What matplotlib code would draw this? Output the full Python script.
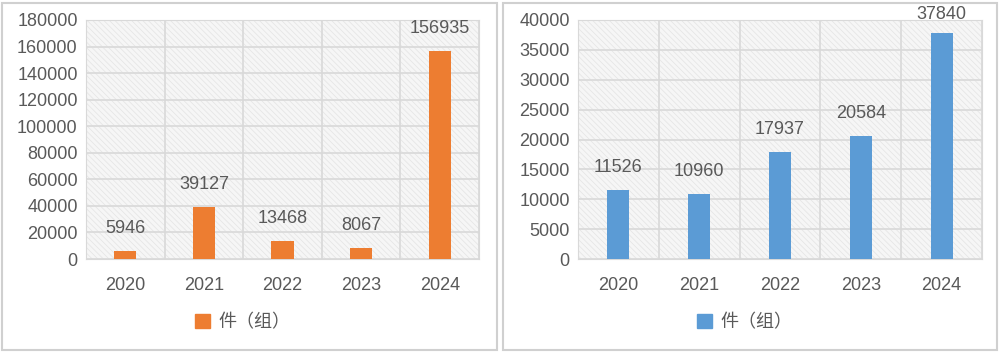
import numpy as np
import matplotlib.pyplot as plt
from matplotlib.patches import Rectangle, Patch

plt.rcParams['font.family'] = ['Liberation Sans', 'Noto Sans CJK SC', 'DejaVu Sans']
plt.rcParams['hatch.linewidth'] = 0.6

years = ['2020', '2021', '2022', '2023', '2024']
left_vals = [5946, 39127, 13468, 8067, 156935]
right_vals = [11526, 10960, 17937, 20584, 37840]
legend_label = '件（组）'

text_color = '#595959'
grid_color = '#d9d9d9'

fig = plt.figure(figsize=(10, 3.52), dpi=100)
W, H = 1000, 352

# outer panel frames
for x0, x1 in [(2, 497), (503, 997)]:
    fig.patches.append(Rectangle((x0 / W, 2 / H), (x1 - x0) / W, (H - 5) / H,
                                 transform=fig.transFigure, fill=False,
                                 edgecolor='#d0d0d0', linewidth=1.5))


def draw(rect, vals, color, ymax, ystep, width, leg_x):
    ax = fig.add_axes(rect)
    x = np.arange(len(years))
    ax.set_facecolor('white')
    ax.add_patch(Rectangle((0, 0), 1, 1, transform=ax.transAxes, facecolor='#f6f6f6',
                           edgecolor='#e6e6e6', hatch='\\\\\\\\\\\\', linewidth=0, zorder=0))
    ax.bar(x, vals, width=width, color=color, zorder=3)
    for xi, v in zip(x, vals):
        # labels near the top get pulled down a bit so they stay inside the panel
        off = 7 if v / ymax > 0.9 else 10
        ax.annotate(str(v), (xi, v), xytext=(0, off), textcoords='offset points',
                    ha='center', va='bottom', fontsize=13, color=text_color,
                    zorder=4, annotation_clip=False)
    ax.set_xlim(-0.5, len(years) - 0.5)
    ax.set_ylim(0, ymax)
    ax.set_yticks(np.arange(0, ymax + 1, ystep))
    ax.set_xticks(x)
    ax.set_xticklabels(years)
    ax.tick_params(length=0, labelsize=13, colors=text_color)
    ax.tick_params(axis='x', pad=13)
    ax.tick_params(axis='y', pad=6)
    for b in np.arange(-0.5, len(years), 1.0):
        ax.axvline(b, color=grid_color, linewidth=1.2, zorder=1)
    for yv in np.arange(0, ymax + 1, ystep):
        ax.axhline(yv, color=grid_color, linewidth=1.2, zorder=1)
    for s in ax.spines.values():
        s.set_color(grid_color)
    handle = Patch(facecolor=color, edgecolor=color)
    fig.legend([handle], [legend_label], loc='center', bbox_to_anchor=(leg_x, 1 - 323 / H),
               frameon=False, fontsize=13, labelcolor=text_color,
               handlelength=0.8, handleheight=0.8, handletextpad=0.5)
    return ax


draw([86 / W, 1 - 259 / H, (479 - 86) / W, (259 - 20) / H], left_vals, '#ED7D31',
     180000, 20000, 0.28, 243 / W)
draw([578 / W, 1 - 259 / H, (982 - 578) / W, (259 - 20) / H], right_vals, '#5B9BD5',
     40000, 5000, 0.27, 745 / W)

fig.savefig('out.png', dpi=100)
